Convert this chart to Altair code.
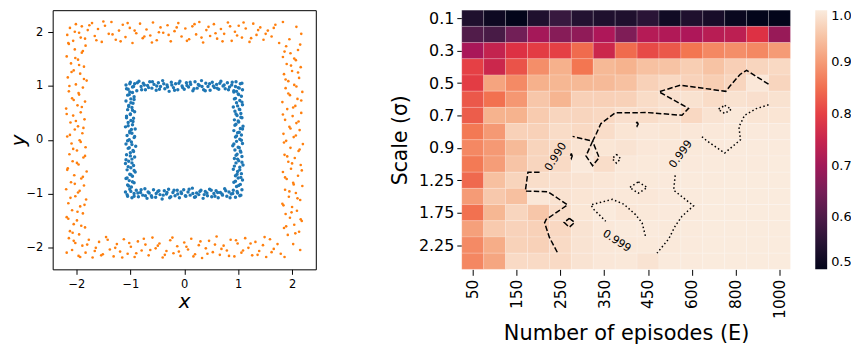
import altair as alt
import pandas as pd

# ---------------- left panel: two square rings ----------------
orange_top_x = [-2.17,-2.12,-2.06,-2.01,-1.95,-1.90,-1.84,-1.79,-1.71,-1.66,-1.60,-1.53,-1.47,-1.40,-1.35,-1.27,-1.21,-1.14,-1.09,-1.01,-0.96,-0.89,-0.82,-0.77,-0.70,-0.63,-0.58,-0.51,-0.44,-0.39,-0.31,-0.25,-0.18,-0.11,-0.05,0.02,0.09,0.15,0.22,0.28,0.35,0.41,0.48,0.55,0.61,0.68,0.74,0.81,0.88,0.94,1.01,1.07,1.14,1.21,1.28,1.34,1.41,1.47,1.55,1.62,1.69,1.76,
                -2.15,-2.03,-1.92,-1.76,-1.63,-1.50,-1.33,-1.18,-1.05,-0.92,-0.74,-0.60,-0.47,-0.29,-0.14,0.05,0.19,0.32,0.45,0.58,0.71,0.85,0.98,1.10,1.24,1.37,1.51,1.66,1.83,1.95,2.08,2.17]
orange_top_y = [1.95,2.08,1.84,2.15,1.99,2.11,1.88,2.04,2.17,1.93,2.06,1.82,2.12,1.97,2.19,1.86,2.03,2.14,1.91,2.08,1.80,1.98,2.16,1.89,2.05,1.94,2.18,1.85,2.09,1.99,2.13,1.83,2.02,2.17,1.92,2.07,1.87,2.11,1.96,2.19,1.81,2.04,1.93,2.15,1.88,2.06,1.97,2.18,1.84,2.01,2.12,1.90,2.07,1.82,2.16,1.95,2.09,1.86,2.03,1.92,2.14,1.80,
                1.80,2.01,1.90,2.13,1.85,2.20,1.96,1.83,2.17,2.03,1.92,1.81,2.00,1.95,2.09,1.84,2.15,1.90,2.10,1.98,1.83,2.11,1.94,2.18,1.89,2.04,1.97,2.08,2.19,1.87,2.10,1.97]
orange_bot_x = [-2.14,-2.08,-2.02,-1.96,-1.89,-1.83,-1.77,-1.70,-1.64,-1.58,-1.51,-1.45,-1.38,-1.31,-1.25,-1.19,-1.12,-1.05,-0.99,-0.92,-0.86,-0.79,-0.72,-0.66,-0.59,-0.53,-0.46,-0.40,-0.33,-0.26,-0.20,-0.13,-0.07,0.00,0.07,0.13,0.20,0.27,0.33,0.40,0.46,0.53,0.60,0.66,0.73,0.79,0.86,0.93,0.99,1.06,1.13,1.19,1.26,1.32,1.39,1.46,1.52,1.59,1.66,1.73,1.79,
                -2.18,-2.05,-1.93,-1.80,-1.66,-1.54,-1.42,-1.28,-1.15,-1.02,-0.89,-0.75,-0.63,-0.49,-0.36,-0.22,-0.10,0.04,0.17,0.30,0.43,0.57,0.69,0.83,0.96,1.09,1.23,1.36,1.49,1.62,1.86,2.02,2.15]
orange_bot_y = [-1.83,-2.05,-1.92,-2.16,-1.97,-2.10,-1.86,-2.19,-2.01,-1.90,-2.13,-1.81,-2.04,-2.17,-1.94,-2.08,-1.85,-2.12,-1.99,-2.18,-1.89,-2.06,-1.95,-2.15,-1.82,-2.02,-1.93,-2.19,-2.07,-1.87,-2.11,-1.98,-2.16,-1.91,-2.04,-1.84,-2.13,-1.96,-2.20,-2.02,-1.88,-2.09,-1.80,-2.14,-1.97,-2.06,-1.86,-2.17,-1.93,-2.10,-1.83,-2.01,-2.15,-1.90,-2.07,-1.96,-2.18,-1.85,-2.03,-1.94,-2.12,
                -2.10,-1.88,-2.18,-1.95,-2.07,-2.15,-1.86,-2.01,-2.19,-1.92,-2.11,-1.84,-2.05,-1.97,-2.14,-1.82,-2.08,-1.99,-2.17,-1.89,-2.12,-1.95,-2.03,-2.16,-1.87,-2.06,-1.93,-2.14,-1.81,-2.09,-2.18,-1.94,-2.05]
orange_left_x = [-1.95,-2.12,-1.84,-2.05,-1.99,-2.18,-1.88,-2.08,-1.93,-2.15,-1.82,-2.02,-1.97,-2.19,-1.86,-2.10,-1.91,-2.04,-1.81,-2.16,-1.96,-2.07,-1.87,-2.13,-1.99,-1.83,-2.09,-1.94,-2.17,-1.89,-2.03,-1.97,-2.11,-1.85,-2.06,-1.92,-2.19,-1.98,-1.84,-2.08,-1.95,-2.14,-1.88,-2.01,-1.81,-2.16,-1.93,-2.05,-1.86,-2.10,-1.97,-2.18,-1.90,-2.03,-1.83,
                 -2.07,-1.91,-2.15,-1.98,-1.85,-2.11,-1.94,-2.03,-1.88,-2.17,-1.99,-1.84,-2.06,-1.92,-2.12,-1.87,-2.01,-2.18,-1.90,-2.05,-1.96,-2.13,-1.86,-2.09,-1.95,-2.02,-1.88,-2.14]
orange_left_y = [-1.76,-1.70,-1.63,-1.57,-1.50,-1.44,-1.37,-1.31,-1.24,-1.18,-1.11,-1.05,-0.98,-0.92,-0.85,-0.79,-0.72,-0.66,-0.59,-0.53,-0.46,-0.40,-0.33,-0.27,-0.20,-0.14,-0.07,-0.01,0.06,0.12,0.19,0.25,0.32,0.38,0.45,0.51,0.58,0.64,0.71,0.77,0.84,0.90,0.97,1.03,1.10,1.16,1.23,1.29,1.36,1.42,1.49,1.55,1.62,1.68,1.75,
                 -1.73,-1.60,-1.47,-1.34,-1.21,-1.08,-0.95,-0.82,-0.69,-0.56,-0.43,-0.30,-0.17,-0.04,0.09,0.22,0.35,0.48,0.61,0.74,0.87,1.00,1.13,1.26,1.39,1.52,1.65,1.78]
orange_right_x = [1.92,2.13,1.85,2.04,2.18,1.96,1.88,2.09,2.00,1.82,2.15,1.94,2.07,1.87,2.19,2.02,1.90,2.11,1.83,1.98,2.16,1.93,2.05,1.86,2.12,1.97,2.20,1.89,2.03,1.84,2.14,1.95,2.08,1.87,2.01,2.17,1.91,2.06,1.82,2.10,1.96,2.19,1.88,2.04,1.93,2.13,1.85,2.00,2.16,1.90,2.07,1.83,1.97,2.11,1.89,
                  2.06,1.89,2.16,1.99,1.84,2.10,1.95,2.03,1.87,2.18,2.00,1.91,2.14,1.85,2.07,1.97,2.12,1.83,2.02,2.17,1.93,2.08,1.88,2.11,1.98,2.04,1.86,2.15]
orange_right_y = [-1.77,-1.71,-1.64,-1.58,-1.51,-1.45,-1.38,-1.32,-1.25,-1.19,-1.12,-1.06,-0.99,-0.93,-0.86,-0.80,-0.73,-0.67,-0.60,-0.54,-0.47,-0.41,-0.34,-0.28,-0.21,-0.15,-0.08,-0.02,0.05,0.11,0.18,0.24,0.31,0.37,0.44,0.50,0.57,0.63,0.70,0.76,0.83,0.89,0.96,1.02,1.09,1.15,1.22,1.28,1.35,1.41,1.48,1.54,1.61,1.67,1.74,
                  -1.74,-1.61,-1.48,-1.35,-1.22,-1.09,-0.96,-0.83,-0.70,-0.57,-0.44,-0.31,-0.18,-0.05,0.08,0.21,0.34,0.47,0.60,0.73,0.86,0.99,1.12,1.25,1.38,1.51,1.64,1.77]

blue_top_x = [-1.08,-1.04,-1.00,-0.96,-0.92,-0.88,-0.84,-0.80,-0.76,-0.72,-0.68,-0.64,-0.60,-0.56,-0.52,-0.48,-0.44,-0.40,-0.36,-0.32,-0.28,-0.24,-0.20,-0.16,-0.12,-0.08,-0.04,0.00,0.04,0.08,0.12,0.16,0.20,0.24,0.28,0.32,0.36,0.40,0.44,0.48,0.52,0.56,0.60,0.64,0.68,0.72,0.76,0.80,0.84,0.88,0.92,0.96,1.00,1.04,1.08,
              -1.07,-1.01,-0.94,-0.87,-0.79,-0.74,-0.66,-0.59,-0.51,-0.46,-0.38,-0.31,-0.23,-0.18,-0.10,-0.03,0.05,0.11,0.18,0.26,0.33,0.39,0.47,0.54,0.61,0.66,0.74,0.82,0.89,0.95,1.02,1.07]
blue_top_y = [1.02,0.94,1.07,0.98,1.04,0.91,1.09,0.99,1.05,0.93,1.01,1.08,0.96,1.03,0.92,1.06,0.99,1.10,0.95,1.02,0.90,1.07,0.97,1.04,0.93,1.09,1.00,0.94,1.06,0.98,1.03,0.91,1.08,0.96,1.01,1.10,0.93,1.05,0.99,0.92,1.07,0.97,1.03,0.94,1.09,1.00,0.95,1.06,0.98,1.02,0.91,1.08,0.97,1.04,0.93,
              0.95,1.04,0.99,1.06,0.93,1.02,0.97,1.08,1.00,0.94,1.04,0.98,1.02,0.92,1.05,0.97,1.01,1.07,0.95,1.03,0.99,0.91,1.04,1.00,0.96,1.05,1.02,0.93,1.07,0.99,0.96,1.05]
blue_bot_x = [-1.09,-1.05,-1.01,-0.97,-0.93,-0.89,-0.85,-0.81,-0.77,-0.73,-0.69,-0.65,-0.61,-0.57,-0.53,-0.49,-0.45,-0.41,-0.37,-0.33,-0.29,-0.25,-0.21,-0.17,-0.13,-0.09,-0.05,-0.01,0.03,0.07,0.11,0.15,0.19,0.23,0.27,0.31,0.35,0.39,0.43,0.47,0.51,0.55,0.59,0.63,0.67,0.71,0.75,0.79,0.83,0.87,0.91,0.95,0.99,1.03,1.07,
              -1.06,-0.99,-0.93,-0.86,-0.80,-0.72,-0.67,-0.60,-0.52,-0.47,-0.39,-0.32,-0.27,-0.19,-0.12,-0.06,0.02,0.09,0.16,0.21,0.29,0.37,0.42,0.50,0.57,0.62,0.70,0.77,0.85,0.90,0.98,1.05]
blue_bot_y = [-0.97,-1.05,-0.92,-1.08,-1.00,-0.94,-1.06,-0.98,-1.03,-0.91,-1.09,-0.99,-1.04,-0.93,-1.07,-0.96,-1.02,-1.10,-0.95,-1.01,-0.92,-1.06,-0.98,-1.04,-0.94,-1.08,-1.00,-0.93,-1.05,-0.97,-1.03,-0.90,-1.07,-0.99,-1.02,-0.94,-1.09,-0.96,-1.04,-0.92,-1.06,-1.00,-0.95,-1.08,-0.98,-1.03,-0.91,-1.05,-0.97,-1.01,-0.94,-1.07,-0.99,-1.04,-0.93,
              -1.02,-0.96,-1.05,-0.99,-0.93,-1.04,-0.97,-1.07,-1.00,-0.95,-1.03,-0.98,-1.08,-0.94,-1.01,-0.97,-1.04,-0.92,-1.00,-1.06,-0.96,-1.02,-0.99,-0.94,-1.05,-0.98,-1.01,-0.95,-1.08,-1.00,-0.96,-1.03]
blue_left_x = [-0.98,-1.05,-0.93,-1.02,-1.08,-0.96,-1.01,-0.91,-1.06,-0.99,-0.94,-1.09,-1.03,-0.97,-0.92,-1.07,-1.00,-0.95,-1.04,-0.90,-1.08,-0.98,-1.02,-0.93,-1.06,-0.97,-1.01,-0.91,-1.09,-0.96,-1.04,-0.99,-0.94,-1.07,-1.00,-0.92,-1.05,-0.97,-1.03,-0.95,-1.08,-0.99,-0.93,-1.02,-0.96,
               -1.03,-0.96,-1.06,-0.99,-0.93,-1.04,-0.97,-1.08,-1.00,-0.94,-1.02,-0.97,-1.05,-0.92,-1.01,-0.98,-1.04,-0.95,-1.07,-1.00,-0.96,-1.03,-0.99,-0.93,-1.05,-1.01]
blue_left_y = [-0.88,-0.84,-0.80,-0.76,-0.72,-0.68,-0.64,-0.60,-0.56,-0.52,-0.48,-0.44,-0.40,-0.36,-0.32,-0.28,-0.24,-0.20,-0.16,-0.12,-0.08,-0.04,0.00,0.04,0.08,0.12,0.16,0.20,0.24,0.28,0.32,0.36,0.40,0.44,0.48,0.52,0.56,0.60,0.64,0.68,0.72,0.76,0.80,0.84,0.88,
               -0.86,-0.78,-0.71,-0.65,-0.57,-0.50,-0.43,-0.37,-0.30,-0.22,-0.15,-0.09,-0.02,0.06,0.13,0.19,0.26,0.34,0.41,0.47,0.55,0.62,0.69,0.75,0.83,0.89]
blue_right_x = [0.97,1.04,0.92,1.08,1.00,0.95,1.06,0.99,0.91,1.03,1.09,0.96,1.01,0.93,1.07,0.98,1.05,0.94,1.02,0.90,1.08,0.97,1.03,0.95,1.06,0.99,0.92,1.04,1.09,0.96,1.01,0.93,1.07,0.98,1.05,0.94,1.02,0.91,1.08,0.97,1.03,0.95,1.06,1.00,0.92,
                1.01,0.95,1.05,0.98,1.03,0.93,1.07,0.99,0.96,1.04,1.00,0.92,1.06,0.97,1.02,1.08,0.94,1.00,1.05,0.96,1.03,0.99,1.07,0.93,1.01,0.97]
blue_right_y = [-0.87,-0.83,-0.79,-0.75,-0.71,-0.67,-0.63,-0.59,-0.55,-0.51,-0.47,-0.43,-0.39,-0.35,-0.31,-0.27,-0.23,-0.19,-0.15,-0.11,-0.07,-0.03,0.01,0.05,0.09,0.13,0.17,0.21,0.25,0.29,0.33,0.37,0.41,0.45,0.49,0.53,0.57,0.61,0.65,0.69,0.73,0.77,0.81,0.85,0.89,
                -0.85,-0.77,-0.70,-0.64,-0.56,-0.49,-0.42,-0.36,-0.29,-0.21,-0.14,-0.08,-0.01,0.07,0.14,0.20,0.27,0.35,0.42,0.48,0.56,0.63,0.70,0.76,0.84,0.90]

# ---------------- right panel: heatmap ----------------
episodes = ["50", "100", "150", "200", "250", "300", "350", "400", "450", "500",
            "600", "700", "800", "900", "1000"]
sigmas = ["0.1", "0.2", "0.3", "0.4", "0.5", "0.6", "0.7", "0.8", "0.9", "1.0",
          "1.25", "1.5", "1.75", "2.0", "2.25", "2.5"]
acc = [
    [0.540, 0.515, 0.500, 0.540, 0.575, 0.545, 0.540, 0.540, 0.555, 0.520, 0.540, 0.530, 0.510, 0.500, 0.500],
    [0.605, 0.595, 0.645, 0.705, 0.670, 0.680, 0.715, 0.660, 0.725, 0.720, 0.715, 0.730, 0.735, 0.780, 0.690],
    [0.710, 0.745, 0.780, 0.795, 0.800, 0.845, 0.755, 0.845, 0.810, 0.825, 0.857, 0.878, 0.885, 0.878, 0.900],
    [0.800, 0.755, 0.820, 0.885, 0.925, 0.857, 0.935, 0.928, 0.945, 0.948, 0.962, 0.948, 0.964, 0.972, 0.976],
    [0.795, 0.910, 0.880, 0.925, 0.932, 0.935, 0.937, 0.945, 0.966, 0.975, 0.968, 0.962, 0.972, 0.995, 0.972],
    [0.825, 0.852, 0.895, 0.952, 0.930, 0.965, 0.965, 0.966, 0.980, 0.986, 0.988, 0.980, 0.988, 0.985, 0.988],
    [0.830, 0.928, 0.928, 0.958, 0.972, 0.972, 0.975, 0.985, 0.982, 0.988, 0.975, 0.990, 0.996, 0.992, 0.992],
    [0.860, 0.897, 0.966, 0.966, 0.980, 0.976, 0.982, 0.992, 0.995, 0.993, 0.995, 0.996, 0.997, 0.998, 0.998],
    [0.878, 0.897, 0.937, 0.970, 0.979, 0.990, 0.993, 0.990, 0.995, 0.996, 0.997, 0.998, 0.999, 0.999, 0.999],
    [0.862, 0.902, 0.950, 0.972, 0.978, 0.998, 0.982, 0.996, 0.997, 0.997, 0.998, 0.999, 0.999, 0.999, 1.000],
    [0.843, 0.944, 0.970, 0.983, 0.986, 0.990, 0.994, 0.996, 0.997, 0.998, 0.999, 0.999, 1.000, 1.000, 1.000],
    [0.900, 0.955, 0.944, 0.995, 0.988, 0.992, 0.995, 0.996, 0.995, 0.998, 0.999, 1.000, 1.000, 1.000, 1.000],
    [0.852, 0.932, 0.972, 0.952, 0.982, 0.993, 0.999, 0.994, 0.996, 0.998, 0.999, 1.000, 1.000, 1.000, 1.000],
    [0.905, 0.957, 0.968, 0.966, 0.975, 0.990, 0.996, 0.999, 0.999, 0.997, 0.999, 1.000, 1.000, 1.000, 1.000],
    [0.880, 0.920, 0.967, 0.966, 0.978, 0.990, 0.995, 0.996, 0.997, 0.997, 0.999, 1.000, 1.000, 1.000, 1.000],
    [0.877, 0.913, 0.978, 0.978, 0.978, 0.990, 0.995, 0.996, 0.990, 0.999, 0.999, 1.000, 1.000, 1.000, 1.000],
]

# contour traces (cell-index coordinates: column, row)
dash_paths = {
    "d1": ([14.0, 13.0, 12.7, 12.25, 12.05, 9.97, 9.0, 10.35, 10.05, 8.46, 7.0, 6.35, 6.15, 5.97, 5.06],
           [4.57, 3.71, 3.97, 4.67, 5.01, 4.63, 5.04, 6.06, 6.49, 6.32, 6.34, 7.0, 7.6, 8.09, 7.79]),
    "d2": ([3.55, 3.02, 2.90, 3.93, 4.83, 3.85, 3.78, 4.0, 4.38],
           [10.0, 10.0, 11.17, 11.21, 12.02, 12.92, 13.13, 14.03, 15.0]),
    "d3": ([5.97, 5.67, 5.97, 6.27, 5.97], [8.09, 9.0, 9.6, 9.1, 8.09]),
    "d4": ([5.0, 5.04, 5.0, 4.96, 5.0], [8.85, 9.0, 9.15, 9.0, 8.85]),
    "d5": ([8.0, 8.05, 8.0, 7.95, 8.0], [6.9, 7.03, 7.16, 7.03, 6.9]),
    "d6": ([4.91, 5.15, 4.91, 4.67, 4.91], [12.85, 13.1, 13.4, 13.1, 12.85]),
}
dot_paths = {
    "t1": ([14.0, 13.44, 12.91, 12.65, 12.72, 12.0, 11.18, 10.95],
           [5.84, 6.08, 6.49, 7.2, 8.0, 8.82, 8.06, 7.8]),
    "t2": ([9.74, 9.67, 10.58, 10.05, 9.74, 9.44, 8.91],
           [10.2, 11.11, 12.08, 12.72, 13.33, 14.13, 15.0]),
    "t3": ([8.38, 8.23, 7.93, 7.4, 6.87, 5.89, 6.04, 6.57],
           [13.93, 13.13, 12.62, 11.98, 11.68, 12.02, 12.32, 13.03]),
    "t4": ([12.0, 12.3, 12.0, 11.7, 12.0], [5.88, 6.12, 6.38, 6.12, 5.88]),
    "t5": ([7.06, 7.25, 7.06, 6.87, 7.06], [8.9, 9.17, 9.45, 9.17, 8.9]),
    "t6": ([8.06, 8.46, 8.06, 7.66, 8.06], [10.6, 10.95, 11.3, 10.95, 10.6]),
}
label_text = ["0.990", "0.999", "0.999"]
label_c = [4.30, 10.01, 7.07]
label_r = [9.06, 8.90, 14.27]
label_angle = [302, 306, 33]

cbar_ticks = [0.5, 0.6, 0.7, 0.8, 0.9, 1.0]
rocket_pos = [0.5, 0.5714, 0.6429, 0.7143, 0.7857, 0.8571, 0.9286, 1.0]
rocket_col = ["#03051a", "#35193e", "#701f57", "#ad1759", "#e13342", "#f37651", "#f6b48f", "#faebdd"]

# ---------------- build tables ----------------
orange = pd.DataFrame({
    "x": orange_top_x + orange_bot_x + orange_left_x + orange_right_x,
    "y": orange_top_y + orange_bot_y + orange_left_y + orange_right_y,
})
blue = pd.DataFrame({
    "x": blue_top_x + blue_bot_x + blue_left_x + blue_right_x,
    "y": blue_top_y + blue_bot_y + blue_left_y + blue_right_y,
})

cells = []
for j, row in enumerate(acc):
    for i, v in enumerate(row):
        cells.append({"c0": i, "c1": i + 1, "r0": j, "r1": j + 1, "v": v})
cells = pd.DataFrame(cells)

def paths_df(paths):
    rows = []
    for pid, (cs, rs) in paths.items():
        for k, (c, r) in enumerate(zip(cs, rs)):
            rows.append({"pid": pid, "k": k, "c": c, "r": r})
    return pd.DataFrame(rows)

dash_df = paths_df(dash_paths)
dot_df = paths_df(dot_paths)
lab_df = pd.DataFrame({"t": label_text, "c": label_c, "r": label_r, "a": label_angle})

# ---------------- left chart ----------------
sx = alt.Scale(domain=[-2.44, 2.44], nice=False, zero=False)
sy = alt.Scale(domain=[-2.41, 2.41], nice=False, zero=False)
ax_x = alt.Axis(values=[-2, -1, 0, 1, 2], title="x", titleFontStyle="italic", titleFontSize=20,
                titleFontWeight="normal", labelFontSize=11.5, tickSize=5, labelPadding=4,
                titlePadding=2, domain=False, grid=False, tickColor="black", labelColor="black")
ax_y = alt.Axis(values=[-2, -1, 0, 1, 2], title="y", titleFontStyle="italic", titleFontSize=20,
                titleFontWeight="normal", labelFontSize=11.5, tickSize=5, labelPadding=5,
                titlePadding=-3, domain=False, grid=False, tickColor="black", labelColor="black")

blue_layer = alt.Chart(blue).mark_circle(size=12, color="#1f77b4", opacity=1).encode(
    x=alt.X("x:Q", scale=sx, axis=ax_x), y=alt.Y("y:Q", scale=sy, axis=ax_y))
orange_layer = alt.Chart(orange).mark_circle(size=7, color="#ff7f0e", opacity=1).encode(
    x=alt.X("x:Q", scale=sx, axis=ax_x), y=alt.Y("y:Q", scale=sy, axis=ax_y))
left = alt.layer(blue_layer, orange_layer).properties(
    width=265, height=261, view=alt.ViewBackground(stroke="black", strokeWidth=1))

# ---------------- right chart ----------------
hx = alt.Scale(domain=[0, 15], nice=False, zero=False)
hy = alt.Scale(domain=[0, 16], nice=False, zero=False, reverse=True)
x_expr = "[" + ",".join("'%s'" % e for e in episodes) + "][floor(datum.value)]"
y_expr = "[" + ",".join("'%s'" % s for s in sigmas) + "][floor(datum.value)]"
hax_x = alt.Axis(values=[i + 0.5 for i in range(0, 15, 2)], labelExpr=x_expr, labelAngle=270,
                 title="Number of episodes (E)", titleFontSize=21, titleFontWeight="normal",
                 labelFontSize=15.5, tickSize=6, labelPadding=4, titlePadding=4,
                 domain=False, grid=False, tickColor="black", labelColor="black")
hax_y = alt.Axis(values=[j + 0.5 for j in range(0, 16, 2)], labelExpr=y_expr,
                 title="Scale (σ)", titleFontSize=20.5, titleFontWeight="normal",
                 labelFontSize=16, tickSize=5, labelPadding=3, titlePadding=8,
                 domain=False, grid=False, tickColor="black", labelColor="black")

heat = alt.Chart(cells).mark_rect(stroke="white", strokeWidth=0.5, strokeOpacity=0.35).encode(
    x=alt.X("c0:Q", scale=hx, axis=hax_x), x2="c1",
    y=alt.Y("r0:Q", scale=hy, axis=hax_y), y2="r1",
    color=alt.Color("v:Q",
                    scale=alt.Scale(domain=rocket_pos, range=rocket_col, interpolate="rgb", clamp=True),
                    legend=alt.Legend(title=None, orient="none", legendX=768, legendY=0,
                                      direction="vertical", gradientLength=261, gradientThickness=12,
                                      values=cbar_ticks, format=".1f", labelFontSize=13,
                                      labelOffset=4, gradientStrokeWidth=0, labelOverlap=False,
                                      labelColor="black", padding=0)),
)
dashed = alt.Chart(dash_df).mark_line(color="black", strokeWidth=1.5, strokeDash=[5.5, 2.4]).encode(
    x=alt.X("c:Q", scale=hx, axis=hax_x), y=alt.Y("r:Q", scale=hy, axis=hax_y),
    detail="pid:N", order="k:Q")
dotted = alt.Chart(dot_df).mark_line(color="black", strokeWidth=1.5, strokeDash=[1.5, 2.5]).encode(
    x=alt.X("c:Q", scale=hx, axis=hax_x), y=alt.Y("r:Q", scale=hy, axis=hax_y),
    detail="pid:N", order="k:Q")
labels = alt.Chart(lab_df).mark_text(fontSize=11, color="black").encode(
    x=alt.X("c:Q", scale=hx, axis=hax_x), y=alt.Y("r:Q", scale=hy, axis=hax_y),
    text="t:N", angle=alt.Angle("a:Q", scale=None))
right = alt.layer(heat, dashed, dotted, labels).properties(width=331, height=261)

chart = alt.hconcat(left, right, spacing=74).properties(
    padding={"left": 0, "top": 0, "right": -1, "bottom": 0}
).configure(font="DejaVu Sans").configure_view(stroke=None)

chart.save("out.html", embed_options={"renderer": "svg", "actions": False})
